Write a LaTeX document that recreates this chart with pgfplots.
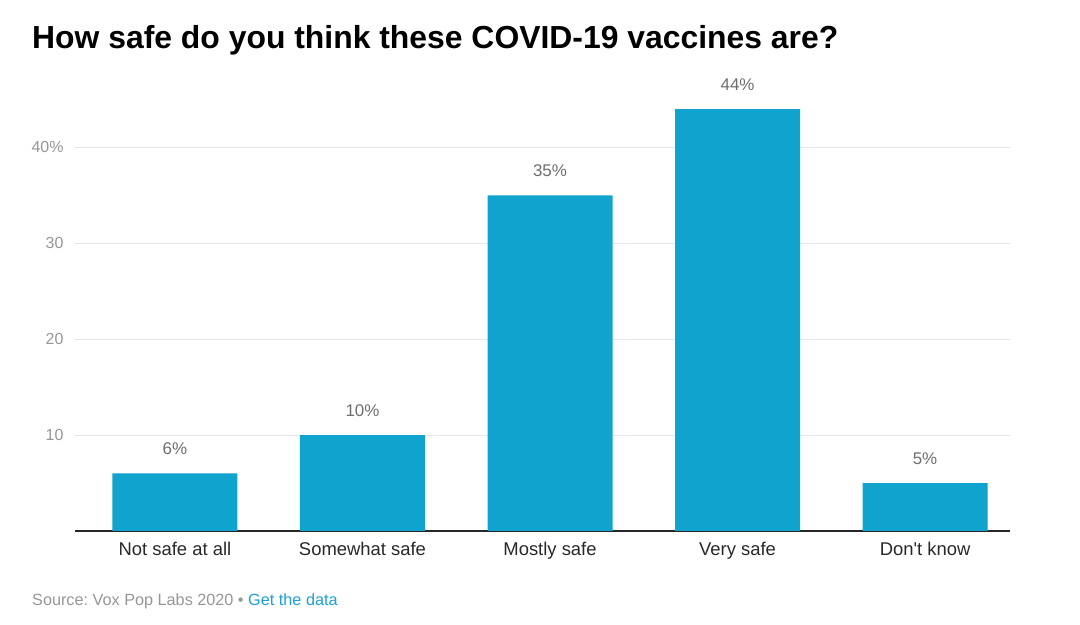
\documentclass[border=0pt]{standalone}
\usepackage{pgfplots}
\pgfplotsset{compat=1.18}
\usepackage{fontspec}
\setmainfont{Liberation Sans}
\definecolor{barblue}{RGB}{16,163,206}
\definecolor{gridgray}{RGB}{230,230,230}
\definecolor{ticklab}{RGB}{150,150,150}
\definecolor{vallab}{RGB}{110,110,110}
\definecolor{catlab}{RGB}{40,40,40}
\definecolor{linkblue}{RGB}{26,160,216}
\frenchspacing
\begin{document}
\begin{tikzpicture}[x=1bp,y=1bp]
\path (0,0) rectangle (1080,625);
\begin{axis}[
  at={(75bp,94bp)}, anchor=south west,
  scale only axis, width=935bp, height=441bp,
  xmin=-0.533, xmax=4.453, ymin=0, ymax=46,
  ybar, bar width=125bp, bar shift=0pt,
  xtick=data,
  xticklabels={Not safe at all, Somewhat safe, Mostly safe, Very safe, Don\textquotesingle t know},
  ytick={10,20,30,40},
  yticklabels={10,20,30,40\%},
  major tick length=0pt,
  ymajorgrids, grid style={gridgray, line width=1bp},
  axis x line*=bottom,
  axis y line*=left,
  x axis line style={draw=black!85, line width=1.2bp, -},
  y axis line style={draw=none},
  /pgf/number format/assume math mode=true,
  ticklabel style={font=\fontsize{16}{19}\selectfont},
  yticklabel style={color=ticklab, anchor=east, xshift=-8bp},
  xticklabel style={color=catlab, font=\fontsize{18.5}{22}\selectfont, anchor=base, yshift=-25bp},
  nodes near coords={\pgfmathprintnumber{\pgfplotspointmeta}\%},
  nodes near coords style={color=vallab, font=\fontsize{17}{20}\selectfont, anchor=base, yshift=19bp},
  clip=false,
]
\addplot[fill=barblue, draw=none, ybar] coordinates {(0,6) (1,10) (2,35) (3,44) (4,5)};
\end{axis}
\node[anchor=base west, inner sep=0pt, font=\fontsize{32}{38}\selectfont\bfseries] at (32,576) {How safe do you think these COVID-19 vaccines are?};
\node[anchor=base west, inner sep=0pt, font=\fontsize{16.3}{19}\selectfont] at (32,19) {\textcolor{ticklab}{Source: Vox Pop Labs 2020 \textbullet{}} \textcolor{linkblue}{Get the data}};
\end{tikzpicture}
\end{document}
